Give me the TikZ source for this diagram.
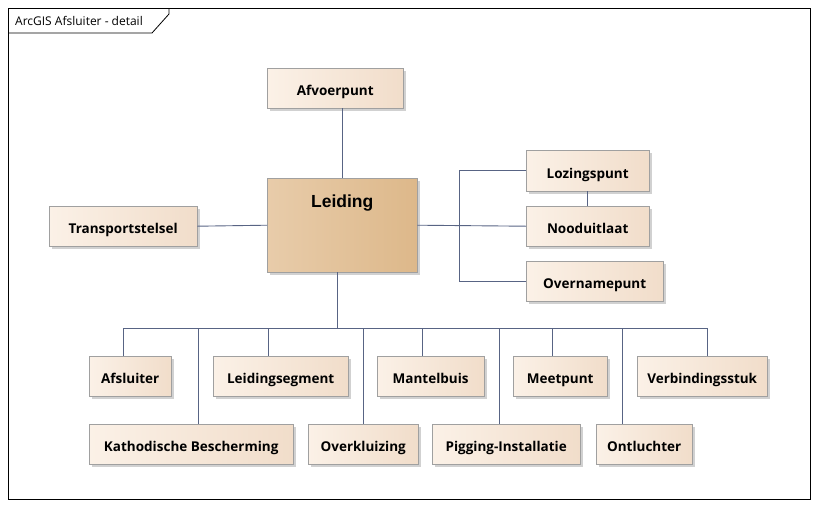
\documentclass[tikz,border=0pt]{standalone}
\usepackage{fontspec}
\setmainfont{Open Sans}
\newfontfamily\headfont{Liberation Sans}
\usetikzlibrary{shadows,calc}
\definecolor{BoxL}  {RGB}{251,241,231}
\definecolor{BoxR}  {RGB}{241,221,202}
\definecolor{MainL} {RGB}{232,204,170}
\definecolor{MainR} {RGB}{221,184,138}
\definecolor{EdgeG} {RGB}{160,160,160}
\definecolor{LinkB} {RGB}{88, 100, 132}

\begin{document}
\begin{tikzpicture}[x=1pt,y=-1pt,
    cls/.style={draw=EdgeG,left color=BoxL,right color=BoxR,anchor=north west,
      minimum height=40pt,inner sep=0pt,text height=15pt,text depth=0pt,
      font=\bfseries\fontsize{13.5}{15}\selectfont,
      drop shadow={shadow xshift=3pt,shadow yshift=-3pt,fill=black!30,opacity=0.6}},
    mainc/.style={cls,left color=MainL,right color=MainR,
      font=\headfont\bfseries\fontsize{17.5}{20}\selectfont,
      text height=29pt,text depth=65pt},
    link/.style={draw=LinkB,line width=0.9pt}]
  \useasboundingbox (0,0) rectangle (819,507);
  % frame
  \draw[black,line width=0.8pt] (8,8) rectangle (810,499);
  \draw[black,line width=0.8pt] (8,33) -- (152,33) -- (169,14) -- (169,8);
  \node[anchor=west,font=\fontsize{12}{14}\selectfont,inner sep=0pt] (title) at (15,20.5) {ArcGIS Afsluiter - detail};
  % classes
  \node[mainc,minimum width=150pt] (leiding) at (267,178) {Leiding};
  \node[cls,minimum width=136pt] (afvoerpunt) at (267,68) {Afvoerpunt};
  \node[cls,minimum width=148pt] (transport) at (49,206) {Transportstelsel};
  \node[cls,minimum width=123pt,minimum height=41pt] (lozing) at (526,150) {Lozingspunt};
  \node[cls,minimum width=123pt] (nood) at (526,206) {Nooduitlaat};
  \node[cls,minimum width=137pt] (overname) at (526,261) {Overnamepunt};
  % row 1
  \node[cls,minimum width=82pt] (afsluiter) at (89,356) {Afsluiter};
  \node[cls,minimum width=135pt] (segment) at (213,356) {Leidingsegment};
  \node[cls,minimum width=107pt] (mantel) at (377,356) {Mantelbuis};
  \node[cls,minimum width=94pt] (meetpunt) at (513,356) {Meetpunt};
  \node[cls,minimum width=130pt] (verbinding) at (637,356) {Verbindingsstuk};
  % row 2
  \node[cls,minimum width=204pt] (kathode) at (89,424) {Kathodische Bescherming};
  \node[cls,minimum width=110pt] (kluis) at (308,424) {Overkluizing};
  \node[cls,minimum width=148pt] (pigging) at (432,424) {Pigging-Installatie};
  \node[cls,minimum width=96pt] (ontlucht) at (596,424) {Ontluchter};
  % connectors
  \coordinate (bus) at (337,328);
  \coordinate (brk) at (459,226);
  \draw[link] (leiding.north) -- (leiding.north |- afvoerpunt.south);
  \draw[link] (leiding.west) -- (transport.east);
  \draw[link] (leiding.east) -- (nood.west);
  \draw[link] (brk) |- (lozing.west);
  \draw[link] (brk) |- (overname.west);
  \draw[link] (lozing) -- (nood);
  \draw[link] (bus) -- (bus |- leiding.south);
  \draw[link] (bus) -| ([xshift=-7pt]afsluiter.north);
  \draw[link] (bus) -| ([xshift=-12pt]segment.north);
  \draw[link] (bus) -| ([xshift=-8pt]mantel.north);
  \draw[link] (bus) -| ([xshift=-8pt]meetpunt.north);
  \draw[link] (bus) -| ([xshift=5pt]verbinding.north);
  \draw[link] (bus) -| ([xshift=7pt]kathode.north);
  \draw[link] (bus) -| (kluis.north);
  \draw[link] (bus) -| ([xshift=-7pt]pigging.north);
  \draw[link] (bus) -| ([xshift=-22pt]ontlucht.north);
\end{tikzpicture}
\end{document}
